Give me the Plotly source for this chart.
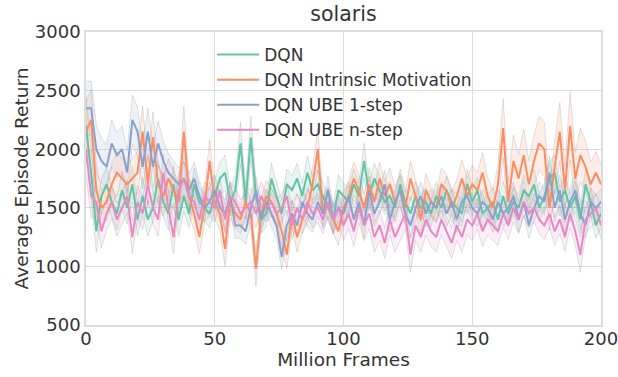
import plotly.graph_objects as go

frames = list(range(0, 201, 2))

dqn = [2200,1800,1300,1600,1700,1550,1450,1650,1500,1700,
       1400,1600,1400,1500,1750,1550,1450,1700,1400,1600,
       1450,1700,1550,1500,1450,1600,1750,1800,1550,1650,
       2050,1550,2100,1600,1400,1450,1750,1600,1450,1700,
       1650,1750,1600,1800,1650,1700,1600,1500,1400,1650,
       1600,1550,1700,1600,1900,1600,1750,1650,1550,1600,
       1500,1700,1550,1450,1600,1500,1550,1450,1600,1500,
       1650,1550,1500,1450,1700,1550,1650,1450,1500,1550,
       1400,1600,1450,1550,1500,1650,1600,1700,1500,1600,
       1750,1800,1550,1650,1500,1600,1400,1700,1550,1350,
       1450]

dqn_im = [2150,2250,1650,1500,1550,1700,1800,1750,1700,1750,
          1800,2150,1700,2100,1700,1600,1750,1650,1550,2150,
          1600,1450,1250,1500,1900,1550,1450,1150,1550,1450,
          1400,1550,1450,980,1450,1600,1550,1450,1300,1100,
          1450,1250,1400,1500,1700,2000,1450,1550,1400,1300,
          1500,1600,1750,1650,1500,1700,1550,1750,1600,1700,
          1550,1650,1500,1750,1600,1400,1650,1550,1500,1700,
          1650,1500,1600,1750,1600,1700,1650,1800,1600,1500,
          1700,2180,1550,1900,1750,1950,1700,1900,2050,2000,
          1500,1850,2150,1650,2200,1750,1950,1850,1700,1800,
          1700]

ube_1 = [2350,2350,2000,1900,1850,2050,1950,2000,1800,2250,
         2150,1850,2150,1850,2050,1900,1800,1750,1700,1750,
         1650,1750,1600,1500,1550,1650,1500,1450,1600,1350,
         1350,1300,1500,1650,1400,1550,1450,1350,1080,1350,
         1450,1350,1550,1450,1400,1550,1450,1650,1400,1500,
         1450,1600,1400,1550,1350,1650,1450,1550,1700,1400,
         1550,1650,1450,1350,1500,1600,1450,1550,1500,1600,
         1450,1550,1400,1550,1600,1500,1450,1550,1500,1400,
         1550,1450,1500,1600,1400,1550,1350,1500,1600,1550,
         1800,1500,1650,1400,1550,1650,1450,1350,1550,1500,
         1550]

ube_n = [2000,1600,1550,1300,1450,1550,1400,1500,1600,1250,
         1550,1450,1700,1500,1400,1800,1500,1250,1650,1750,
         1600,1550,1400,1600,1550,1500,1650,1400,1600,1550,
         1450,1500,1550,1450,1600,1500,1550,1450,1500,1600,
         1350,1500,1400,1550,1450,1500,1400,1550,1400,1500,
         1350,1450,1300,1500,1350,1450,1250,1350,1200,1400,
         1250,1350,1450,1100,1350,1250,1400,1300,1250,1400,
         1300,1200,1350,1250,1400,1350,1450,1300,1400,1350,
         1300,1450,1350,1500,1400,1550,1450,1500,1400,1350,
         1450,1300,1400,1250,1450,1300,1100,1400,1450,1500,
         1350]

dqn_spread = [250,220,180,140,150,130,140,160,140,150,
              140,160,140,120,150,130,140,160,140,130,
              120,140,130,110,120,130,140,150,120,130,
              180,140,180,140,120,110,130,120,110,130,
              120,130,110,140,120,120,110,110,120,130,
              110,120,130,110,150,120,130,120,110,120,
              110,130,120,110,120,110,120,110,120,110,
              120,110,120,110,130,120,110,120,110,120,
              120,130,110,120,110,130,120,130,120,110,
              140,150,120,130,120,130,120,140,120,110,
              120]

dqn_im_spread = [260,260,220,150,160,180,180,170,180,170,
                 180,220,180,220,180,170,170,160,160,220,
                 160,140,140,140,180,140,140,150,140,130,
                 120,130,120,150,130,130,120,120,130,120,
                 120,130,120,130,140,180,130,130,120,120,
                 130,130,140,130,120,140,130,140,130,140,
                 130,140,130,150,140,130,140,130,130,140,
                 140,130,140,160,150,160,150,170,160,150,
                 170,250,180,220,200,220,200,220,230,230,
                 190,220,250,200,290,220,230,220,190,180,
                 170]

ube_1_spread = [230,230,210,190,190,200,190,200,190,210,
                210,190,200,180,190,170,160,150,140,140,
                140,140,130,120,120,130,120,120,120,110,
                110,110,120,120,110,110,110,110,110,110,
                110,110,120,110,110,120,110,120,110,110,
                110,120,110,110,110,120,110,110,120,110,
                110,120,110,110,110,120,110,110,110,120,
                110,110,110,110,120,110,110,110,110,110,
                110,110,110,120,110,110,110,110,120,110,
                140,120,130,120,120,130,120,110,120,110,
                110]

ube_n_spread = [220,180,160,140,140,140,140,140,140,140,
                140,140,140,140,140,160,140,140,140,150,
                140,130,120,120,120,120,120,120,120,120,
                120,120,120,120,120,120,120,120,120,120,
                120,120,120,120,120,120,120,120,120,120,
                130,130,130,130,130,130,130,130,130,130,
                130,130,130,150,130,130,130,130,130,130,
                130,130,130,130,130,130,130,130,130,130,
                120,120,120,120,120,120,120,120,120,120,
                120,120,120,120,120,120,150,120,120,120,
                120]

names = ["DQN", "DQN Intrinsic Motivation", "DQN UBE 1-step", "DQN UBE n-step"]
series = [dqn, dqn_im, ube_1, ube_n]
spreads = [dqn_spread, dqn_im_spread, ube_1_spread, ube_n_spread]
colors = ["#66c2a5", "#fc8d62", "#8da0cb", "#e78ac3"]
fills = ["rgba(102,194,165,0.15)", "rgba(252,141,98,0.15)",
         "rgba(141,160,203,0.15)", "rgba(231,138,195,0.15)"]

for s, sp in zip(series, spreads):
    assert len(s) == len(frames) and len(sp) == len(frames)

fig = go.Figure()
edge = dict(color="rgba(130,130,130,0.4)", width=0.6)
for s, sp, fc in zip(series, spreads, fills):
    lo = [v - d for v, d in zip(s, sp)]
    hi = [v + d for v, d in zip(s, sp)]
    fig.add_trace(go.Scatter(x=frames, y=lo, mode="lines", line=edge,
                             showlegend=False, hoverinfo="skip"))
    fig.add_trace(go.Scatter(x=frames, y=hi, mode="lines", line=edge,
                             fill="tonexty", fillcolor=fc,
                             showlegend=False, hoverinfo="skip"))

for s, n, c in zip(series, names, colors):
    fig.add_trace(go.Scatter(x=frames, y=s, mode="lines", name=n,
                             line=dict(color=c, width=2)))

font_family = "DejaVu Sans"
txt = "#333333"
fig.update_layout(
    width=618, height=377,
    margin=dict(l=86, r=17, t=32, b=52),
    paper_bgcolor="white", plot_bgcolor="white",
    font=dict(family=font_family, color=txt, size=17),
    title=dict(text="solaris", x=0.5, xref="paper", xanchor="center",
               y=1 - 14 / 377, yref="container", yanchor="middle",
               font=dict(size=20.5, color=txt)),
    legend=dict(x=0.245, y=0.983, xanchor="left", yanchor="top",
                bgcolor="rgba(0,0,0,0)", font=dict(size=17, color=txt),
                itemwidth=42, traceorder="normal"),
    showlegend=True,
)
fig.update_xaxes(range=[0, 200], tickvals=[0, 50, 100, 150, 200],
                 showgrid=True, gridcolor="#dcdcdc", gridwidth=1,
                 showline=True, linecolor="#dcdcdc", linewidth=1.5, mirror=True,
                 zeroline=False, ticks="", automargin=False,
                 ticklabeloverflow="allow", ticklabelstandoff=-3,
                 tickfont=dict(size=18, color=txt),
                 title=dict(text="Million Frames", font=dict(size=18.5, color=txt), standoff=0))
fig.update_yaxes(range=[500, 3000], tickvals=[500, 1000, 1500, 2000, 2500, 3000],
                 showgrid=True, gridcolor="#dcdcdc", gridwidth=1,
                 showline=True, linecolor="#dcdcdc", linewidth=1.5, mirror=True,
                 zeroline=False, ticks="", automargin=False,
                 tickfont=dict(size=18, color=txt),
                 title=dict(text="Average Episode Return", font=dict(size=18.5, color=txt), standoff=1))

fig.write_html("out.html", config={"displayModeBar": False},
               post_script="document.body.style.margin='0';")
